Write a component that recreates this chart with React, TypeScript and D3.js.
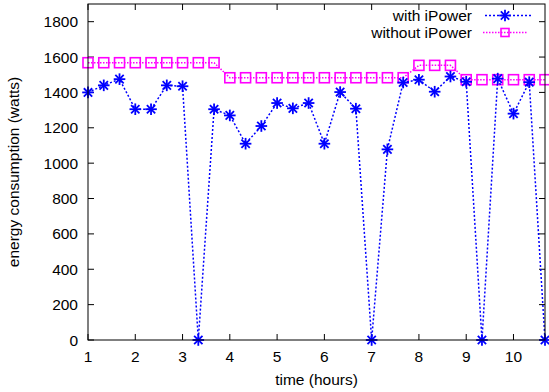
import React from 'react'
import * as d3 from 'd3'

// time in hours, one sample every 20 minutes
const hours = [
  1, 4 / 3, 5 / 3, 2, 7 / 3, 8 / 3, 3, 10 / 3, 11 / 3, 4,
  13 / 3, 14 / 3, 5, 16 / 3, 17 / 3, 6, 19 / 3, 20 / 3, 7, 22 / 3,
  23 / 3, 8, 25 / 3, 26 / 3, 9, 28 / 3, 29 / 3, 10, 31 / 3, 32 / 3
]
const withIPower = [
  1400, 1440, 1475, 1305, 1305, 1440, 1435, 0, 1305, 1270,
  1110, 1210, 1340, 1310, 1340, 1110, 1402, 1308, 0, 1078,
  1456, 1472, 1404, 1490, 1460, 0, 1478, 1280, 1458, 0
]
const withoutIPower = [
  1568, 1568, 1568, 1568, 1568, 1568, 1568, 1568, 1568, 1483,
  1483, 1483, 1483, 1483, 1483, 1483, 1483, 1483, 1483, 1483,
  1483, 1553, 1553, 1553, 1472, 1472, 1472, 1472, 1472, 1472
]
const xTicks = [1, 2, 3, 4, 5, 6, 7, 8, 9, 10]
const yTicks = [0, 200, 400, 600, 800, 1000, 1200, 1400, 1600, 1800]

const width = 549,
      height = 392,
      left = 88,
      right = 545,
      top = 4,
      bottom = 340

const font = 'Liberation Sans, Arial, sans-serif'
const blue = '#0000ff'
const magenta = '#ff00ff'

const xScale = d3.scaleLinear().domain([1, 32 / 3]).range([left, right])
const yScale = d3.scaleLinear().domain([0, 1900]).range([bottom, top])

const Star = ({ x, y, r = 5.8 }: { x: number, y: number, r?: number }) => {
  const d = r * 0.72
  return (
    <g stroke={blue} strokeWidth={1.8}>
      <line x1={x - r} x2={x + r} y1={y} y2={y} />
      <line x1={x} x2={x} y1={y - r} y2={y + r} />
      <line x1={x - d} x2={x + d} y1={y - d} y2={y + d} />
      <line x1={x - d} x2={x + d} y1={y + d} y2={y - d} />
    </g>
  )
}

const Square = ({ x, y, s = 10 }: { x: number, y: number, s?: number }) => (
  <rect x={x - s / 2} y={y - s / 2} width={s} height={s}
        fill='none' stroke={magenta} strokeWidth={1.6} />
)

export default function App () {
  const line = d3.line<[number, number]>()
    .x(d => xScale(d[0]))
    .y(d => yScale(d[1]))

  const withPts = hours.map((h, i) => [h, withIPower[i]] as [number, number])
  const withoutPts = hours.map((h, i) => [h, withoutIPower[i]] as [number, number])

  return (
    <svg width={width} height={height}
         style={{ position: 'absolute', left: 0, top: 0 }}
         fontFamily={font} fontSize={15.5}>
      <rect width={width} height={height} fill='#fff' />

      {/* ticks, mirrored on all sides like gnuplot */}
      <g stroke='#000' strokeWidth={1}>
        {xTicks.map(t => (
          <g key={t}>
            <line x1={xScale(t)} x2={xScale(t)} y1={bottom} y2={bottom - 6} />
            <line x1={xScale(t)} x2={xScale(t)} y1={top} y2={top + 6} />
          </g>
        ))}
        {yTicks.map(t => (
          <g key={t}>
            <line x1={left} x2={left + 6} y1={yScale(t)} y2={yScale(t)} />
            <line x1={right} x2={right - 6} y1={yScale(t)} y2={yScale(t)} />
          </g>
        ))}
      </g>

      {xTicks.map(t => (
        <text key={t} x={xScale(t)} y={362} textAnchor='middle' fill='#000'>{t}</text>
      ))}
      {yTicks.map(t => (
        <text key={t} x={78} y={yScale(t) + 5.5} textAnchor='end' fill='#000'>{t}</text>
      ))}

      <text x={(left + right) / 2} y={385} textAnchor='middle'>time (hours)</text>
      <text transform={`translate(19, ${(top + bottom) / 2}) rotate(-90)`}
            textAnchor='middle'>energy consumption (watts)</text>

      {/* series */}
      <path d={line(withoutPts) || ''} fill='none' stroke={magenta}
            strokeWidth={1.5} strokeDasharray='1.5,1.5' />
      {withoutPts.map((p, i) => (
        <Square key={i} x={xScale(p[0])} y={yScale(p[1])} />
      ))}
      <path d={line(withPts) || ''} fill='none' stroke={blue}
            strokeWidth={1.5} strokeDasharray='2,2' />
      {withPts.map((p, i) => (
        <Star key={i} x={xScale(p[0])} y={yScale(p[1])} />
      ))}

      {/* legend */}
      <text x={472} y={21} textAnchor='end'>with iPower</text>
      <line x1={485} x2={532} y1={15.5} y2={15.5} stroke={blue}
            strokeWidth={1.5} strokeDasharray='2,2' />
      <Star x={505} y={15.5} />
      <text x={472} y={38} textAnchor='end'>without iPower</text>
      <line x1={483} x2={527} y1={32.5} y2={32.5} stroke={magenta}
            strokeWidth={1.5} strokeDasharray='1.5,1.5' />
      <Square x={505} y={32.5} s={8} />

      <rect x={left} y={top} width={right - left} height={bottom - top}
            fill='none' stroke='#000' strokeWidth={1} />
    </svg>
  )
}
